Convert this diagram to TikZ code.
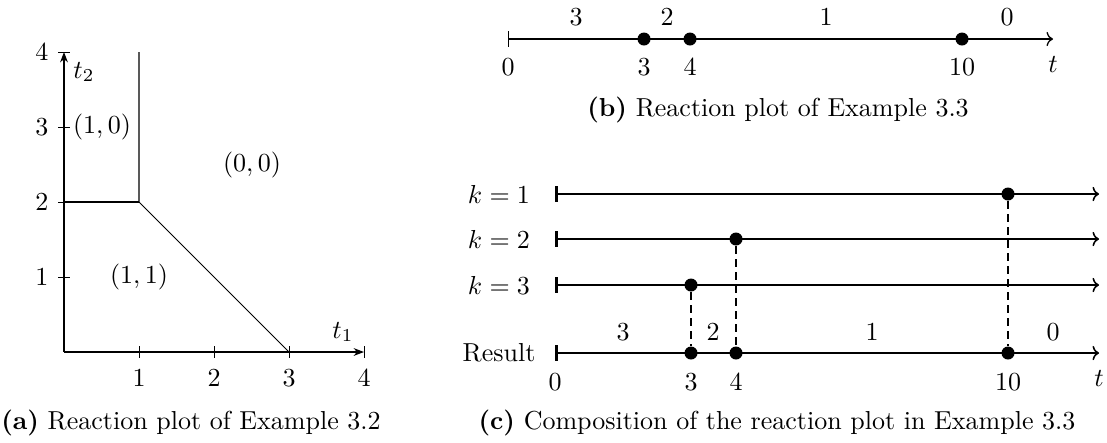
\documentclass[tikz,border=0pt]{standalone}
\usetikzlibrary{arrows.meta}
\begin{document}
\begin{tikzpicture}[x=0.3846pt,y=-0.3846pt,
  axis/.style={line width=0.4pt,-{Stealth[length=4pt,width=3pt]}},
  region/.style={line width=0.4pt},
  tickmark/.style={line width=0.3pt},
  tline/.style={line width=0.5pt,{Bar[width=6pt]}-{To[length=2.5pt,width=5.5pt]}},
  cline/.style={line width=0.6pt,{Bar[width=6pt,line width=1pt]}-{To[length=2.5pt,width=5.5pt]}},
  dot/.style={circle,fill=black,inner sep=0pt,minimum size=5pt},
  lbl/.style={inner sep=0pt},
  captext/.style={inner sep=0pt},
  guide/.style={line width=0.4pt,dash pattern=on 3pt off 2pt}]
\useasboundingbox (0,0) rectangle (1107,442);

% ---------- (a) ----------
\coordinate (O) at (64,352);
\coordinate (X) at (364,352);
\coordinate (Y) at (64,52);
\draw[axis] (O) -- (X);
\draw[axis] (O) -- (Y);
\foreach \i/\xx in {1/139,2/214,3/289,4/364} {
  \draw[tickmark] (\xx,346) -- (\xx,358);
  \node[lbl] (xl\i) at (\xx,378) {$\i$};
}
\foreach \i/\yy in {1/277,2/202,3/127,4/52} {
  \draw[tickmark] (58,\yy) -- (70,\yy);
  \node[lbl] (yl\i) at (42,\yy) {$\i$};
}
\coordinate (A) at (139,52);
\coordinate (B) at (139,202);
\coordinate (C) at (64,202);
\coordinate (D) at (289,352);
\draw[region] (A) -- (B) -- (D);
\draw[region] (C) -- (B);
\node[lbl] (r10) at (102,127) {$(1,0)$};
\node[lbl] (r00) at (252,165) {$(0,0)$};
\node[lbl] (r11) at (139,277) {$(1,1)$};
\node[lbl] (t2) at (84,72) {$t_2$};
\node[lbl] (t1) at (343,332) {$t_1$};
\node[captext] (capa) at (191,423) {\textbf{(a)} Reaction plot of Example 3.2};

% ---------- (b) ----------
\coordinate (b0) at (508,39);
\coordinate (bend) at (1053,39);
\draw[tline] (b0) -- (bend);
\node[dot] (b3) at (644,39) {};
\node[dot] (b4) at (690,39) {};
\node[dot] (b10) at (962,39) {};
\foreach \n/\xx in {0/508,3/644,4/690,10/962} {
  \node[lbl] (bl\n) at (\xx,67) {$\n$};
}
\node[lbl] (bt) at (1053,64) {$t$};
\foreach \n/\xx in {3/576,2/667,1/826,0/1007} {
  \node[lbl] (ba\n) at (\xx,17) {$\n$};
}
\node[captext] (capb) at (778,110) {\textbf{(b)} Reaction plot of Example 3.3};

% ---------- (c) ----------
\coordinate (k1s) at (555,194);
\coordinate (k1e) at (1099,194);
\coordinate (k2s) at (555,239);
\coordinate (k2e) at (1099,239);
\coordinate (k3s) at (555,285);
\coordinate (k3e) at (1099,285);
\coordinate (rs) at (555,353);
\coordinate (re) at (1099,353);
\draw[cline] (k1s) -- (k1e);
\draw[cline] (k2s) -- (k2e);
\draw[cline] (k3s) -- (k3e);
\draw[cline] (rs) -- (re);
\node[lbl] (lk1) at (499,194) {$k=1$};
\node[lbl] (lk2) at (499,239) {$k=2$};
\node[lbl] (lk3) at (499,285) {$k=3$};
\node[lbl] (lres) at (499,353) {Result};
\node[dot] (d1) at (1008,194) {};
\node[dot] (d2) at (736,239) {};
\node[dot] (d3) at (691,285) {};
\node[dot] (rd3) at (691,353) {};
\node[dot] (rd4) at (736,353) {};
\node[dot] (rd10) at (1008,353) {};
\draw[guide] (d1) -- (rd10);
\draw[guide] (d2) -- (rd4);
\draw[guide] (d3) -- (rd3);
\foreach \n/\xx in {0/555,3/691,4/736,10/1008} {
  \node[lbl] (cl\n) at (\xx,382) {$\n$};
}
\node[lbl] (ct) at (1099,378) {$t$};
\foreach \n/\xx in {3/623,2/713,1/872,0/1053} {
  \node[lbl] (ca\n) at (\xx,332) {$\n$};
}
\node[captext] (capc) at (777,423) {\textbf{(c)} Composition of the reaction plot in Example 3.3};
\end{tikzpicture}
\end{document}
